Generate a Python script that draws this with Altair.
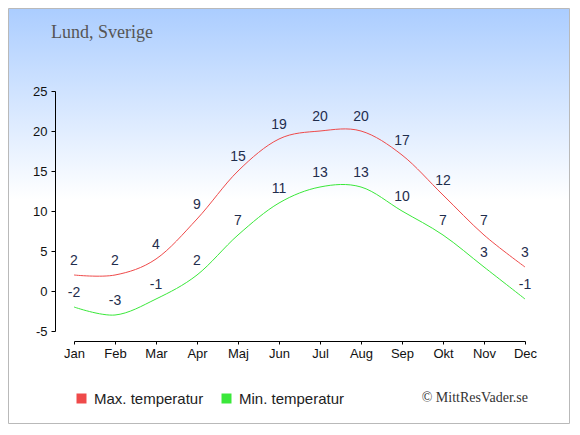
import altair as alt
import pandas as pd

months = ["Jan", "Feb", "Mar", "Apr", "Maj", "Jun", "Jul", "Aug", "Sep", "Okt", "Nov", "Dec"]
max_temp = [2, 2, 4, 9, 15, 19, 20, 20, 17, 12, 7, 3]
min_temp = [-2, -3, -1, 2, 7, 11, 13, 13, 10, 7, 3, -1]
series = ["Max. temperatur", "Min. temperatur"]
colors = ["#ef4a4a", "#3ae83a"]
y_ticks = [-5, 0, 5, 10, 15, 20, 25]
title_text = "Lund, Sverige"
credit_text = "© MittResVader.se"

rows = []
for m, a, b in zip(months, max_temp, min_temp):
    rows.append({"month": m, "temp": a, "label": str(a), "series": series[0]})
    rows.append({"month": m, "temp": b, "label": str(b), "series": series[1]})
df = pd.DataFrame(rows)

W, H = 451, 240
PL, PT, PR, PB = 66, 83, 45, 93

x_enc = alt.X(
    "month:N", sort=months,
    scale=alt.Scale(type="point", padding=0),
    axis=alt.Axis(title="", labelAngle=0, offset=10, tickSize=3, labelPadding=3,
                  labelFont="Liberation Sans", labelFontSize=13, labelColor="#111",
                  domainColor="#000", tickColor="#000", grid=False, zindex=2),
)
y_enc = alt.Y(
    "temp:Q",
    scale=alt.Scale(domain=[-5, 25], nice=False, zero=False),
    axis=alt.Axis(title="", values=y_ticks, offset=19, tickSize=4, labelPadding=4,
                  labelExpr="'' + datum.value",
                  labelFont="Liberation Sans", labelFontSize=13, labelColor="#111",
                  domainColor="#000", tickColor="#000", grid=False, zindex=2),
)

bg = alt.Chart(pd.DataFrame({"k": [0]})).mark_rect(
    fill=alt.Gradient(
        gradient="linear",
        stops=[alt.GradientStop(offset=0, color="#abcdff"),
               alt.GradientStop(offset=0.46, color="#ffffff"),
               alt.GradientStop(offset=1, color="#ffffff")],
        x1=0, x2=0, y1=0, y2=1),
    stroke="#b9b9b9", strokeWidth=1,
).encode(
    x=alt.value(-PL + 0.5), x2=alt.value(W + PR - 0.5),
    y=alt.value(-PT + 0.5), y2=alt.value(H + PB - 0.5),
)

lines = alt.Chart(df).mark_line(interpolate="cardinal", strokeWidth=1).encode(
    x=x_enc, y=y_enc,
    color=alt.Color(
        "series:N",
        scale=alt.Scale(domain=series, range=colors),
        legend=alt.Legend(title="", orient="none", legendX=0, legendY=300,
                          direction="horizontal", symbolType="square",
                          symbolSize=25, symbolStrokeWidth=5,
                          labelFont="Liberation Sans", labelFontSize=15,
                          labelColor="#222", labelOffset=5, columnPadding=10,
                          padding=0),
    ),
    detail="series:N",
)

labels = alt.Chart(df).mark_text(
    dy=-14, font="Liberation Sans", fontSize=14, color="#1f2d4d"
).encode(x=x_enc, y=y_enc, text="label:N")

title = alt.Chart(pd.DataFrame({"t": [title_text]})).mark_text(
    align="left", baseline="alphabetic", font="Liberation Serif", fontSize=18, color="#555555"
).encode(x=alt.value(51 - 74), y=alt.value(38 - 91), text="t:N")

credit = alt.Chart(pd.DataFrame({"t": [credit_text]})).mark_text(
    align="right", baseline="alphabetic", font="Liberation Serif", fontSize=14, color="#333333"
).encode(x=alt.value(528 - 74), y=alt.value(402 - 91), text="t:N")

chart = alt.layer(bg, lines, labels, title, credit).properties(
    width=W, height=H,
    autosize=alt.AutoSizeParams(type="none"),
    padding={"left": PL, "top": PT, "right": PR, "bottom": PB},
).configure_view(stroke=None).configure(background="#ffffff")

chart.save("out.html", embed_options={"renderer": "svg", "actions": False})
